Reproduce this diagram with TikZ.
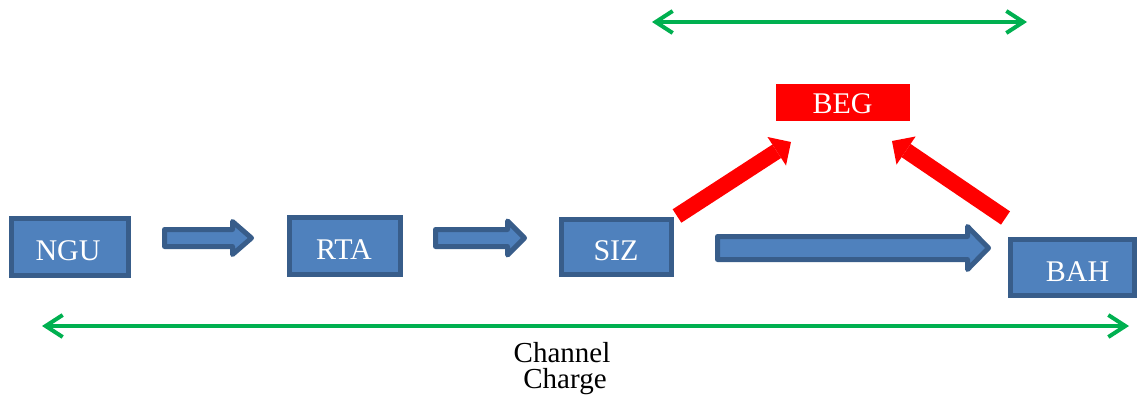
\documentclass[tikz,border=0pt]{standalone}
\usepackage{fontspec}
\setmainfont{Liberation Serif}
\usetikzlibrary{arrows.meta}
\definecolor{boxfill}{HTML}{4F81BD}
\definecolor{boxline}{HTML}{385D8A}
\definecolor{grnline}{HTML}{00B050}
\definecolor{begred}{HTML}{FF0000}
\newcommand{\blockarr}[6]{% x-tail, x-headbase, x-tip, cy, half body, half head
  \draw[blockarrow] (#1,#4-#5) -- (#2,#4-#5) -- (#2,#4-#6) -- (#3,#4)
    -- (#2,#4+#6) -- (#2,#4+#5) -- (#1,#4+#5) -- cycle;}
\begin{document}
\begin{tikzpicture}[x=1pt,y=-1pt,
  box/.style={draw=boxline, fill=boxfill, line width=5pt, inner sep=0pt},
  redbox/.style={fill=begred, inner sep=0pt},
  lbl/.style={text=white, font=\fontsize{30}{30}\selectfont, inner sep=0pt},
  caplbl/.style={text=black, font=\fontsize{29}{29}\selectfont, inner sep=0pt, anchor=base},
  blockarrow/.style={draw=boxline, fill=boxfill, line width=5pt, line join=round},
  redarrow/.style={draw=begred, line width=16pt,
    -{Triangle[length=17pt,width=34pt,line width=0pt]}},
  grnarrow/.style={draw=grnline, line width=4pt,
    {Straight Barb[length=17pt,width=22pt]}-{Straight Barb[length=17pt,width=22pt]}}
]
\useasboundingbox (0,0) rectangle (1138,397);

% boxes
\node[box, minimum width=117pt, minimum height=57pt] (ngu) at (70,247) {};
\node[lbl, anchor=base] (ngut) at (68,260) {NGU};
\node[box, minimum width=111pt, minimum height=57pt] (rta) at (345,246) {};
\node[lbl, anchor=base] (rtat) at (344,259) {RTA};
\node[box, minimum width=110pt, minimum height=55pt] (siz) at (616.5,247) {};
\node[lbl, anchor=base] (sizt) at (616,260) {SIZ};
\node[box, minimum width=124pt, minimum height=56pt] (bah) at (1072.5,267.5) {};
\node[lbl, anchor=base] (baht) at (1077.5,281) {BAH};
\node[redbox, minimum width=134pt, minimum height=37pt] (beg) at (843,102.5) {};
\node[lbl, anchor=base] (begt) at (842.5,113) {BEG};

% blue block arrows
\blockarr{164.5}{232.5}{251.5}{238}{8.5}{16.5}
\blockarr{435.5}{507.5}{524.5}{238}{8.5}{17}
\blockarr{717.5}{967.5}{988.5}{248}{11.5}{21.5}

% red arrows
\coordinate (r1s) at (677,216);
\coordinate (r1e) at (791,142);
\coordinate (r2s) at (1005.5,218);
\coordinate (r2e) at (892,141);
\draw[redarrow] (r1s) -- (r1e);
\draw[redarrow] (r2s) -- (r2e);

% green arrows
\coordinate (g1l) at (652,22);
\coordinate (g1r) at (1027,22);
\coordinate (g2l) at (42,326);
\coordinate (g2r) at (1129,326);
\draw[grnarrow] (g1l) -- (g1r);
\draw[grnarrow] (g2l) -- (g2r);

% caption
\node[caplbl] (cap1) at (562,362) {Channel};
\node[caplbl] (cap2) at (565,388) {Charge};
\end{tikzpicture}
\end{document}
